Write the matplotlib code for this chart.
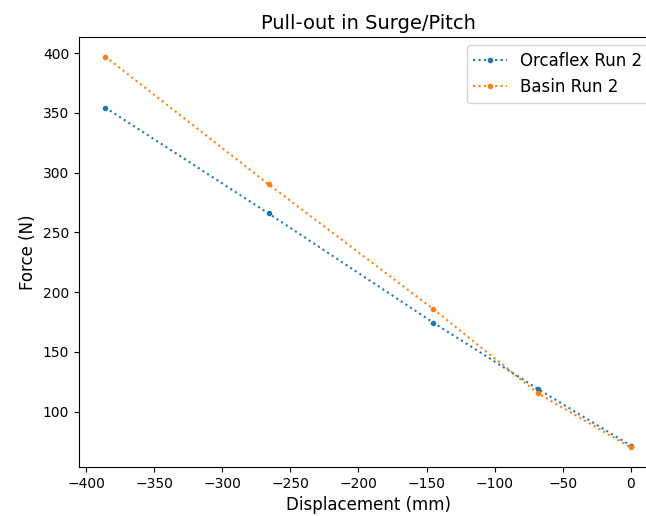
import matplotlib
matplotlib.use('Agg')
import matplotlib.pyplot as plt

# Pull-out test data
displacement = [-386, -266, -145, -68, 0]
orcaflex_run2 = [354.5, 265.8, 174.4, 118.7, 71.5]
basin_run2 = [397.2, 290.2, 185.8, 115.2, 69.9]

labels = ['Orcaflex Run 2', 'Basin Run 2']


fig = plt.figure(figsize=(6.46, 5.16), dpi=100)
# axes run past the right edge, like the cropped reference
ax = fig.add_axes([79 / 646, 1 - 467 / 516, 578 / 646, 430 / 516])

ax.plot(displacement, orcaflex_run2, ':', marker='.', label=labels[0])
ax.plot(displacement, basin_run2, ':', marker='.', label=labels[1])

ax.set_title('Pull-out in Surge/Pitch', fontsize=14)
ax.set_xlabel('Displacement (mm)', fontsize=12)
ax.set_ylabel('Force (N)', fontsize=12)
ax.legend(loc='upper right', fontsize=12)

fig.savefig('out.png', dpi=100)
